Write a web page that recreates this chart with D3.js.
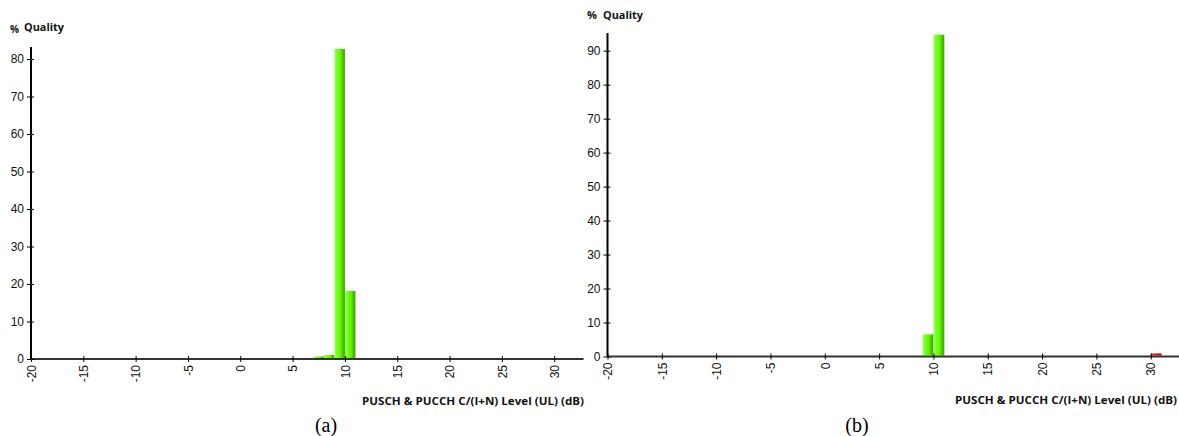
<!DOCTYPE html>
<html>
<head>
<meta charset="utf-8">
<script src="https://cdn.jsdelivr.net/npm/d3@7"></script>
<style>
  html, body { margin: 0; padding: 0; background: #fff; }
  svg { display: block; }
</style>
</head>
<body>
<svg id="chart" width="1179" height="436"></svg>
<script>
// ---------- data ----------
const xTicks = [-20, -15, -10, -5, 0, 5, 10, 15, 20, 25, 30];
const yTicksA = [0, 10, 20, 30, 40, 50, 60, 70, 80];
const yTicksB = [0, 10, 20, 30, 40, 50, 60, 70, 80, 90];

// panel (a): 1 dB bins, start of each bin and % of samples
const binsA = [7, 8, 9, 10];
const valuesA = [0.4, 0.8, 82.4, 17.9];
const classA = ["good", "good", "good", "good"];

// panel (b)
const binsB = [9, 10, 30];
const valuesB = [6.2, 94.4, 0.6];
const classB = ["good", "good", "bad"];

const yTitle = ["%", "Quality"];
const xTitle = "PUSCH & PUCCH C/(I+N) Level (UL) (dB)";
const captions = ["(a)", "(b)"];

// ---------- drawing ----------
const svg = d3.select("#chart");
const defs = svg.append("defs");
const gGreen = defs.append("linearGradient").attr("id", "gGreen")
  .attr("x1", "0%").attr("x2", "100%").attr("y1", "0%").attr("y2", "0%");
[["0%", "#9cff6a"], ["28%", "#74ff1a"], ["60%", "#5ef200"], ["78%", "#4cc800"], ["100%", "#3e9f00"]]
  .forEach(([o, c]) => gGreen.append("stop").attr("offset", o).attr("stop-color", c));
const gRed = defs.append("linearGradient").attr("id", "gRed")
  .attr("x1", "0%").attr("x2", "100%").attr("y1", "0%").attr("y2", "0%");
[["0%", "#ff3030"], ["60%", "#e00000"], ["100%", "#a00000"]]
  .forEach(([o, c]) => gRed.append("stop").attr("offset", o).attr("stop-color", c));

const panels = [
  { bins: binsA, values: valuesA, cls: classA, yTicks: yTicksA,
    xDom: [-20, 32.8], xRange: [31, 583.5], yDom: [0, 83.2], yRange: [359, 47],
    pctPos: [10, 33, 10], qualPos: [24, 31], xTitleX: 362, xTitleY: 405, cap: captions[0], capX: 326 },
  { bins: binsB, values: valuesB, cls: classB, yTicks: yTicksB,
    xDom: [-20, 32.6], xRange: [607.5, 1179], yDom: [0, 95.2], yRange: [356.5, 33],
    pctPos: [587, 19, 11], qualPos: [603, 19], xTitleX: 955, xTitleY: 404, cap: captions[1], capX: 857 }
];

const tickFont = "'Liberation Sans', Arial, sans-serif";
const titleFont = "'Open Sans', 'DejaVu Sans', sans-serif";

panels.forEach(p => {
  const x = d3.scaleLinear().domain(p.xDom).range(p.xRange);
  const y = d3.scaleLinear().domain(p.yDom).range(p.yRange);
  const g = svg.append("g");

  // bars
  g.selectAll("rect.bar").data(p.bins.map((b, i) => ({ b, v: p.values[i], c: p.cls[i] })))
    .enter().append("rect").attr("class", "bar")
    .attr("x", d => x(d.b))
    .attr("width", d => x(d.b + 1) - x(d.b))
    .attr("y", d => y(d.v) - 1)
    .attr("height", d => y(0) - y(d.v))
    .attr("fill", d => d.c === "bad" ? "url(#gRed)" : "url(#gGreen)");

  // x axis
  const xAxis = d3.axisBottom(x).tickValues(xTicks).tickSizeInner(3).tickSizeOuter(0)
    .tickFormat(d => String(d));
  const gx = g.append("g").attr("transform", `translate(0,${y(0)})`).call(xAxis);
  gx.attr("font-family", tickFont).attr("font-size", 12);
  gx.select(".domain").attr("stroke", "#333").attr("stroke-width", 2)
    .attr("d", `M${p.xRange[0]},0H${p.xRange[1]}`);
  gx.selectAll(".tick line").attr("y1", -3).attr("y2", 3).attr("stroke", "#000").attr("stroke-width", 1);
  gx.selectAll(".tick text")
    .attr("fill", "#111")
    .attr("text-anchor", "end").attr("dy", "0.35em")
    .attr("transform", "translate(0,6) rotate(-90)")
    .attr("x", 0).attr("y", 0);

  // y axis
  const yAxis = d3.axisLeft(y).tickValues(p.yTicks).tickSizeInner(3).tickSizeOuter(0)
    .tickFormat(d => String(d));
  const gy = g.append("g").attr("transform", `translate(${p.xRange[0]},0)`).call(yAxis);
  gy.attr("font-family", tickFont).attr("font-size", 12);
  gy.select(".domain").attr("stroke", "#000").attr("stroke-width", 2)
    .attr("d", `M0,${p.yRange[1]}V${p.yRange[0]}`);
  gy.selectAll(".tick line").attr("x1", -4).attr("x2", 3).attr("stroke", "#000").attr("stroke-width", 1);
  gy.selectAll(".tick text").attr("fill", "#111").attr("x", -7);

  // titles
  g.append("text").attr("x", p.pctPos[0]).attr("y", p.pctPos[1])
    .attr("font-family", titleFont).attr("font-weight", "bold").attr("font-size", p.pctPos[2])
    .attr("fill", "#111").text(yTitle[0]);
  g.append("text").attr("x", p.qualPos[0]).attr("y", p.qualPos[1])
    .attr("font-family", titleFont).attr("font-weight", "bold").attr("font-size", 11)
    .attr("fill", "#111").attr("textLength", 40).attr("lengthAdjust", "spacingAndGlyphs")
    .text(yTitle[1]);
  g.append("text").attr("x", p.xTitleX).attr("y", p.xTitleY)
    .attr("font-family", titleFont).attr("font-weight", "bold").attr("font-size", 11)
    .attr("fill", "#111").attr("textLength", 222).attr("lengthAdjust", "spacingAndGlyphs")
    .text(xTitle);

  // caption
  svg.append("text").attr("x", p.capX).attr("y", 432)
    .attr("font-family", "'Liberation Serif', 'Times New Roman', serif").attr("font-size", 20)
    .attr("text-anchor", "middle").attr("fill", "#000").text(p.cap);
});
</script>
</body>
</html>
